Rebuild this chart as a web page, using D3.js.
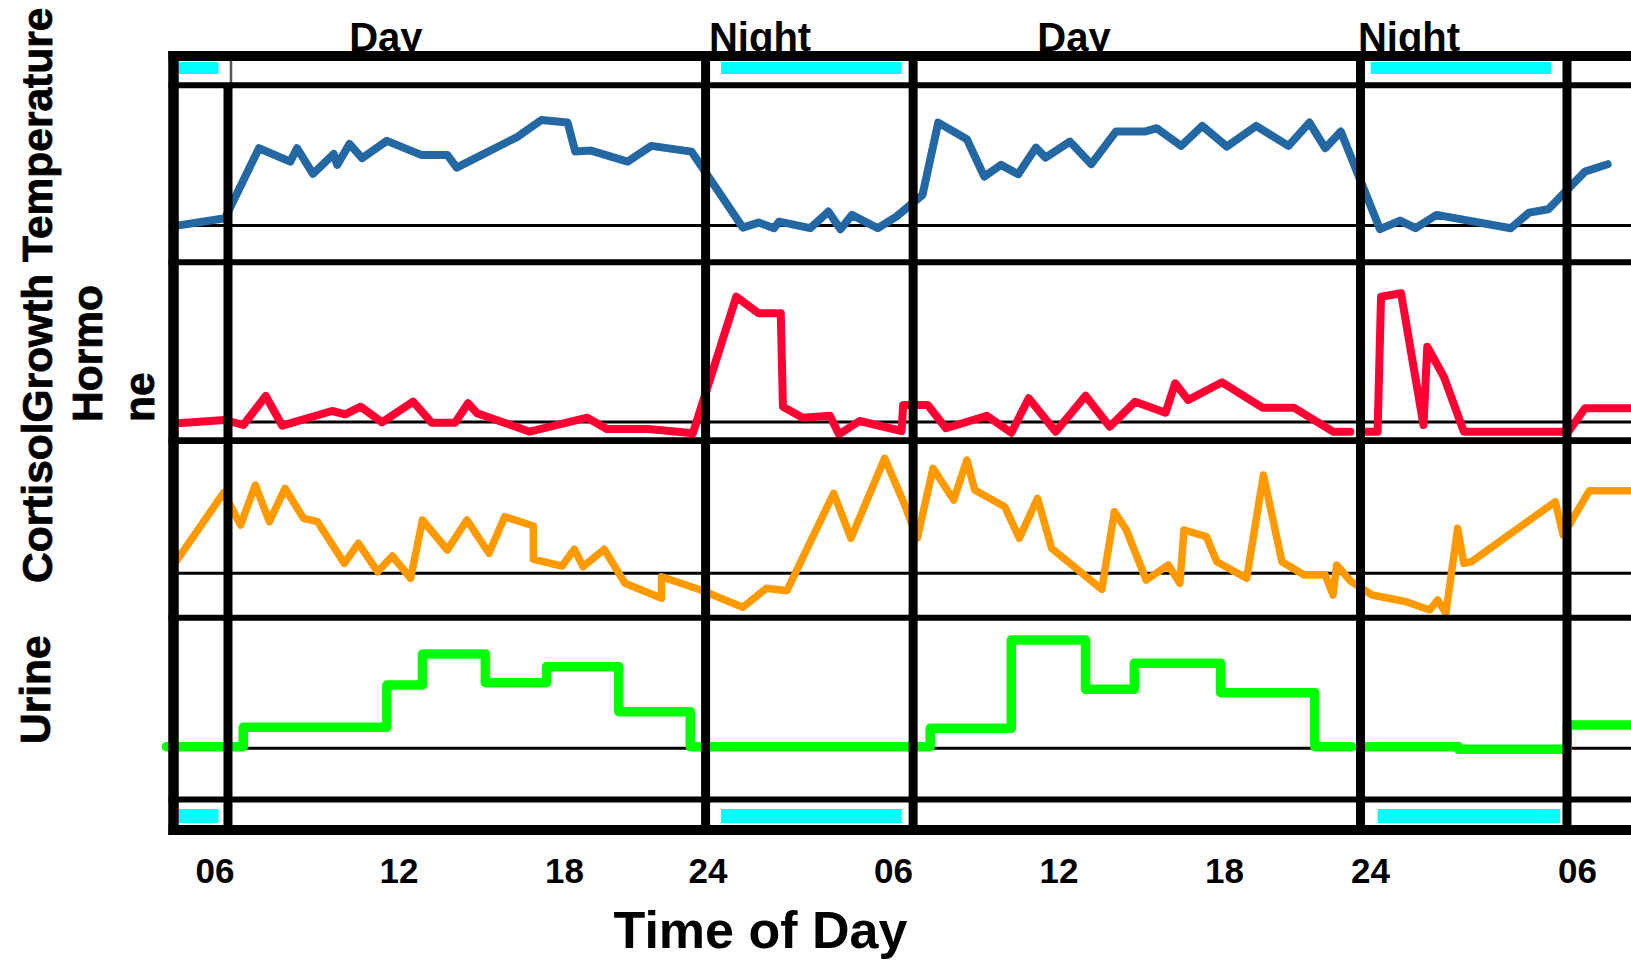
<!DOCTYPE html>
<html><head><meta charset="utf-8">
<script src="https://cdn.jsdelivr.net/npm/d3@7/dist/d3.min.js"></script>
<style>html,body{margin:0;padding:0;background:#fff;overflow:hidden}</style>
</head><body><svg id="chart" width="1631" height="961"></svg>
<script>
// ---------- data (hours since midnight of day 1, relative units) ----------
const tickHours = [6, 12, 18, 24, 30, 36, 42, 48, 54];
const periodLabels = ["Day", "Night", "Day", "Night"];
const periodCenters = [11.59, 25.70, 36.56, 49.13];
const lightChanges = [6.44, 23.92, 30.73, 47.61, 53.71];
const sleepTop = [[4.84, 6.13], [24.44, 30.31], [48.02, 53.25]];
const sleepBottom = [[4.84, 6.13], [24.44, 30.31], [48.22, 53.51]];

const temperature = [[4.63,-0.1],[6.34,0.72],[7.45,7.72],[8.47,6.38],[8.69,7.72],[9.21,5.15],[9.89,7.15],[10.0,6.05],[10.4,8.15],[10.81,6.72],[11.62,8.45],[12.82,7.05],[13.77,7.05],[14.11,5.78],[16.33,8.88],[17.18,10.55],[18.15,10.28],[18.47,7.38],[19.13,7.48],[20.66,6.38],[21.65,7.95],[23.33,7.38],[25.14,-0.22],[25.65,0.28],[26.15,-0.28],[26.32,0.38],[27.32,-0.28],[27.91,1.38],[28.3,-0.38],[28.67,1.05],[29.51,-0.28],[30.12,0.88],[31.07,3.05],[31.64,10.28],[32.68,8.62],[33.31,4.88],[33.91,6.05],[34.54,5.12],[35.18,7.78],[35.53,6.78],[36.41,8.38],[37.19,6.12],[38.08,9.38],[39.13,9.38],[39.56,9.72],[40.45,7.95],[41.21,9.95],[42.12,7.88],[43.32,9.95],[44.65,7.95],[45.51,10.28],[46.16,7.72],[46.8,9.38],[48.29,-0.38],[48.87,0.48],[49.32,-0.28],[49.93,1.05],[52.08,-0.28],[52.61,1.28],[53.17,1.62],[54.23,5.38],[54.89,6.12]];

const growthHormone = [[4.8,-0.13],[6.34,0.2],[6.94,-0.3],[7.67,2.6],[8.21,-0.37],[9.83,1.1],[10.26,0.77],[10.77,1.53],[11.46,-0.03],[12.53,2.03],[13.2,-0.07],[14.05,-0.07],[14.52,1.87],[14.85,0.87],[16.76,-0.97],[18.97,0.43],[19.79,-0.7],[21.53,-0.7],[23.39,-1.13],[24.93,12.53],[25.65,10.87],[26.37,10.87],[26.44,1.53],[27.08,0.43],[27.96,0.63],[28.25,-1.23],[28.92,0.1],[30.31,-0.9],[30.37,1.7],[31.26,1.7],[31.92,-0.63],[33.4,0.63],[34.29,-1.07],[34.92,2.37],[35.9,-0.97],[36.98,2.63],[37.86,-0.47],[38.78,2.03],[39.88,0.93],[40.23,3.87],[40.7,2.2],[41.93,3.97],[43.58,1.43],[44.87,1.43],[46.48,-0.97],[47.19,-0.97],null,[47.84,-0.97],[48.22,-0.97],[48.32,12.53],[48.9,12.87],[49.55,-0.3],[49.66,7.53],[50.14,4.53],[50.72,-0.97],[53.75,-0.97],[54.23,1.37],[55.54,1.37]];

const cortisol = [[4.63,0.66],[6.3,8.06],[6.85,4.83],[7.33,8.83],[7.79,5.16],[8.3,8.5],[8.9,5.5],[9.36,5.16],[10.23,1.0],[10.69,3.0],[11.32,0.16],[11.8,1.73],[12.44,-0.5],[12.87,5.33],[13.77,2.33],[14.48,5.33],[15.28,2.0],[15.85,5.66],[16.89,4.73],[16.89,1.4],[17.93,0.73],[18.43,2.4],[18.8,0.66],[19.68,2.4],[20.55,-1.0],[22.08,-2.5],[22.08,-0.34],[23.72,-1.67],[25.14,-3.4],[25.9,-1.5],[26.57,-1.74],[28.08,8.0],[28.64,3.5],[29.73,11.5],[30.4,7.0],[30.88,3.5],[31.45,10.5],[32.2,7.33],[32.68,11.33],[32.96,8.33],[34.05,6.66],[34.58,3.5],[35.24,7.5],[35.75,2.5],[37.57,-1.6],[38.03,6.16],[38.46,4.33],[39.18,-0.67],[39.98,0.83],[40.4,-1.0],[40.55,4.33],[41.36,3.66],[41.74,1.16],[42.93,-0.5],[43.62,9.83],[44.38,1.16],[45.3,-0.17],[46.16,-0.17],[46.48,-2.17],[46.63,0.83],[47.23,-0.84],[48.06,-2.17],[49.05,-2.84],[49.73,-3.67],[49.96,-2.67],[50.2,-3.97],[50.54,4.5],[50.72,1.0],[50.94,1.16],[53.37,7.16],[53.6,3.83],[54.36,8.26],[55.54,8.26]];

const urine = [[4.43,0.16],[6.94,2.1],[11.62,6.33],[12.87,9.43],[15.15,6.56],[17.37,8.16],[20.29,3.66],[23.28,0.16],[31.35,2.0],[34.29,10.83],[36.98,5.9],[38.75,8.5],[41.88,5.56],[45.73,0.16],[47.25,0.16],null,[47.81,0.16],[50.57,-0.1],[53.72,2.33],[55.54,2.33]];

// ---------- layout ----------
const W = 1631, H = 961;
const FONT = "'Liberation Sans', Arial, Helvetica, sans-serif";
const frameLeft = 173.5, frameTop = 56, bandTop = 85.3, frameBottom = 830;
const hLines = [ {y:56,w:10},{y:85.3,w:6},{y:262.2,w:6},{y:440.7,w:6.7},{y:617.8,w:6},{y:799.5,w:6},{y:830,w:10} ];

const svg = d3.select("#chart");
const x = d3.scaleLinear().domain(tickHours)
  .range([214.5, 398.5, 564, 707.5, 893, 1058.5, 1224, 1370, 1577]);

const panels = [
  {data: temperature,   base: 225.4, color: "#2367a3", width: 8, step: false},
  {data: growthHormone, base: 422,   color: "#ff0033", width: 8, step: false},
  {data: cortisol,      base: 573.3, color: "#ff9900", width: 7.5, step: false},
  {data: urine,         base: 748.3, color: "#00ff00", width: 9.5, step: true}
];

// period labels (drawn first; frame covers their bottoms)
svg.append("g").selectAll("text").data(periodLabels).join("text")
  .attr("x", (d, i) => x(periodCenters[i]))
  .attr("y", 51)
  .attr("text-anchor", "middle")
  .attr("font-family", FONT).attr("font-weight", "bold").attr("font-size", 40)
  .attr("fill", "#000")
  .text(d => d);

// thin baselines
svg.append("g").selectAll("line").data(panels).join("line")
  .attr("x1", frameLeft).attr("x2", W)
  .attr("y1", d => d.base).attr("y2", d => d.base)
  .attr("stroke", "#000").attr("stroke-width", 3);

// sleep bars
svg.append("g").selectAll("rect").data(sleepTop).join("rect")
  .attr("x", d => x(d[0])).attr("width", d => x(d[1]) - x(d[0]))
  .attr("y", 62).attr("height", 12).attr("fill", "#00ffff");
svg.append("g").selectAll("rect").data(sleepBottom).join("rect")
  .attr("x", d => x(d[0])).attr("width", d => x(d[1]) - x(d[0]))
  .attr("y", 809).attr("height", 14).attr("fill", "#00ffff");

// series
panels.forEach(p => {
  const y = d3.scaleLinear().domain([0, 10]).range([p.base, p.base - 100]);
  const line = d3.line()
    .defined(d => d !== null)
    .x(d => x(d[0])).y(d => y(d[1]))
    .curve(p.step ? d3.curveStepAfter : d3.curveLinear);
  svg.append("path").datum(p.data)
    .attr("d", line)
    .attr("fill", "none")
    .attr("stroke", p.color)
    .attr("stroke-width", p.width)
    .attr("stroke-linejoin", "round")
    .attr("stroke-linecap", "round");
});

// light transitions (first one is only a thin border in the top band)
const vg = svg.append("g");
vg.selectAll("line.main").data(lightChanges).join("line").attr("class", "main")
  .attr("x1", d => x(d)).attr("x2", d => x(d))
  .attr("y1", bandTop).attr("y2", frameBottom)
  .attr("stroke", "#000").attr("stroke-width", 9);
vg.selectAll("line.band").data(lightChanges).join("line").attr("class", "band")
  .attr("x1", (d, i) => x(d) + (i === 0 ? 3 : 0)).attr("x2", (d, i) => x(d) + (i === 0 ? 3 : 0))
  .attr("y1", frameTop).attr("y2", bandTop)
  .attr("stroke", (d, i) => i === 0 ? "#555" : "#000")
  .attr("stroke-width", (d, i) => i === 0 ? 2.5 : 9);

// frame: horizontal lines
svg.append("g").selectAll("line").data(hLines).join("line")
  .attr("x1", frameLeft - 5).attr("x2", W)
  .attr("y1", d => d.y).attr("y2", d => d.y)
  .attr("stroke", "#000").attr("stroke-width", d => d.w);
// left frame edge
svg.append("line")
  .attr("x1", frameLeft).attr("x2", frameLeft)
  .attr("y1", frameTop - 5).attr("y2", frameBottom + 5)
  .attr("stroke", "#000").attr("stroke-width", 10.5);

// x axis labels
const fmt = h => { const v = h % 24; return v === 0 ? "24" : String(v).padStart(2, "0"); };
const ax = svg.append("g").attr("transform", "translate(0,883)")
  .call(d3.axisBottom(x).tickValues(tickHours).tickFormat(fmt).tickSize(0).tickPadding(0));
ax.select(".domain").remove();
ax.attr("font-family", FONT).attr("font-size", 35).attr("font-weight", "bold");
ax.selectAll("text").attr("y", 0).attr("dy", 0).attr("fill", "#000");

// x title
svg.append("text")
  .attr("x", 760.5).attr("y", 948)
  .attr("text-anchor", "middle")
  .attr("font-family", FONT).attr("font-weight", "bold").attr("font-size", 52)
  .text("Time of Day");

// y titles (rotated)
const yTitles = [
  {t: "CortisolGrowth Temperature", x: 52, y: 583},
  {t: "Hormo", x: 102, y: 422},
  {t: "ne", x: 154, y: 422},
  {t: "Urine", x: 50, y: 744}
];
svg.append("g").selectAll("text").data(yTitles).join("text")
  .attr("transform", d => `translate(${d.x},${d.y}) rotate(-90)`)
  .attr("text-anchor", "start")
  .attr("font-family", FONT).attr("font-weight", "bold").attr("font-size", 42.5)
  .attr("fill", "#000").attr("stroke", "#000").attr("stroke-width", 0.8)
  .text(d => d.t);
</script>
</body></html>
